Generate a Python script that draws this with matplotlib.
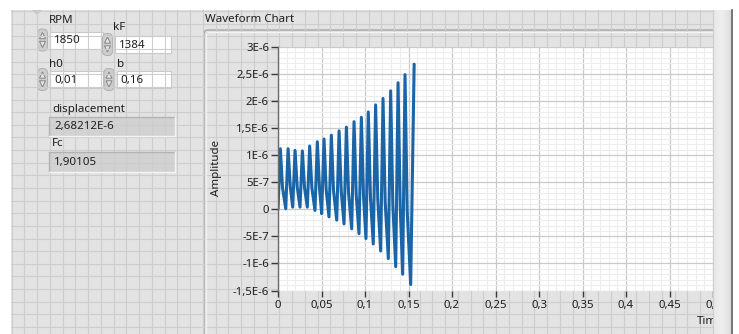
import matplotlib.pyplot as plt
import numpy as np
from matplotlib.patches import FancyBboxPatch, Polygon, Rectangle


# Bildgröße in Pixeln (bei dpi=100)
W, H = 739, 334

# Werte der Bedienelemente
RPM = '1850'
KF = '1384'
H0 = '0,01'
B = '0,16'
DISPLACEMENT = 2.68212e-6
FC = '1,90105'

# Tiefpunkte der Schwingung (Zeit in s, Amplitude)
TROUGH_TIMES = [0.0, 0.0089, 0.0169, 0.0253, 0.0337, 0.0425, 0.0502, 0.0586, 0.0675, 0.0759,
                0.0847, 0.0931, 0.1011, 0.1095, 0.1180, 0.1268, 0.1353, 0.1433, 0.1525]
TROUGH_VALUES = [0.0, 0.01e-6, 0.04e-6, 0.04e-6, 0.04e-6, -0.02e-6, -0.08e-6, -0.14e-6, -0.20e-6, -0.27e-6,
                 -0.36e-6, -0.45e-6, -0.54e-6, -0.64e-6, -0.77e-6, -0.91e-6, -1.06e-6, -1.20e-6, -1.39e-6]

# Hochpunkte der Schwingung; der letzte Wert ist die angezeigte Auslenkung
PEAK_TIMES = [0.0027, 0.0116, 0.0196, 0.0280, 0.0364, 0.0452, 0.0529, 0.0613, 0.0702, 0.0786,
              0.0874, 0.0958, 0.1038, 0.1122, 0.1207, 0.1295, 0.1380, 0.1460, 0.1565]
PEAK_VALUES = [1.12e-6, 1.12e-6, 1.09e-6, 1.08e-6, 1.17e-6, 1.25e-6, 1.30e-6, 1.37e-6, 1.45e-6, 1.52e-6,
               1.62e-6, 1.70e-6, 1.80e-6, 1.93e-6, 2.05e-6, 2.19e-6, 2.34e-6, 2.49e-6, DISPLACEMENT]

# Knick in der fallenden Flanke jeder Periode
KNEE_TIMES = [0.0052, 0.0141, 0.0221, 0.0305, 0.0389, 0.0477, 0.0554, 0.0638, 0.0727, 0.0811,
              0.0899, 0.0983, 0.1063, 0.1147, 0.1232, 0.1320, 0.1405, 0.1485]
KNEE_VALUES = [0.40e-6, 0.42e-6, 0.41e-6, 0.40e-6, 0.40e-6, 0.39e-6, 0.36e-6, 0.35e-6, 0.33e-6, 0.30e-6,
               0.27e-6, 0.24e-6, 0.21e-6, 0.18e-6, 0.13e-6, 0.08e-6, 0.04e-6, -0.03e-6]

Y_TICKS = [-1.5e-6, -1e-6, -5e-7, 0, 5e-7, 1e-6, 1.5e-6, 2e-6, 2.5e-6, 3e-6]
Y_TICK_LABELS = ['-1,5E-6', '-1E-6', '-5E-7', '0', '5E-7', '1E-6', '1,5E-6', '2E-6', '2,5E-6', '3E-6']
X_TICKS = [0, 0.05, 0.1, 0.15, 0.2, 0.25, 0.3, 0.35, 0.4, 0.45, 0.5]
X_TICK_LABELS = ['0', '0,05', '0,1', '0,15', '0,2', '0,25', '0,3', '0,35', '0,4', '0,45', '0,5']

FONT = 'Noto Sans'
TEXT_COLOR = '#1e1e1e'
LINE_COLOR = '#1a64a8'


# Zahl im LabVIEW-Stil mit Dezimalkomma, z.B. 2,68212E-6
def labview_format(value: float) -> str:
    mant, exp = f'{value:.5E}'.split('E')
    return f"{mant.replace('.', ',')}E{int(exp)}"


def pixel_axes(fig, zorder):
    ax = fig.add_axes([0, 0, 1, 1], zorder=zorder)
    ax.set_xlim(0, W)
    ax.set_ylim(H, 0)
    ax.axis('off')
    ax.patch.set_alpha(0)
    return ax


def draw_spinner(ax, x, y, h):
    ax.add_patch(FancyBboxPatch((x, y), 10, h, boxstyle='round,pad=0,rounding_size=4.5',
                                facecolor='#cdcdcd', edgecolor='#b0b0b0', lw=0.7))
    mid = x + 5
    ax.add_patch(Polygon([[mid - 3, y + h * 0.44], [mid + 3, y + h * 0.44], [mid, y + h * 0.16]],
                         closed=True, facecolor='#e6e6e6', edgecolor='#858585', lw=0.7))
    ax.add_patch(Polygon([[mid - 3, y + h * 0.56], [mid + 3, y + h * 0.56], [mid, y + h * 0.84]],
                         closed=True, facecolor='#e6e6e6', edgecolor='#858585', lw=0.7))


def draw_control(ax, x, y, w, h, text):
    draw_spinner(ax, x - 12.5, y - 2.5, h + 5)
    ax.add_patch(Rectangle((x, y), w, h, facecolor='white', edgecolor='#c9c9c9', lw=0.8))
    ax.text(x + 4, y + h / 2 + 0.5, text, fontsize=8.3, family=FONT, color=TEXT_COLOR, va='center')


def draw_indicator(ax, x, y, w, h, text):
    ax.add_patch(Rectangle((x, y), w, h, facecolor='#d2d2d2', edgecolor='none'))
    ax.plot([x, x, x + w], [y + h, y, y], color='#b3b3b3', lw=1.0)
    ax.plot([x, x + w, x + w], [y + h, y + h, y], color='#f3f3f3', lw=1.0)
    ax.text(x + 5, y + h / 2 + 0.5, text, fontsize=8.3, family=FONT, color=TEXT_COLOR, va='center')


def draw_front_panel(ax):
    # Hintergrund mit Raster
    ax.add_patch(Rectangle((11, 10), W, H, facecolor='#e3e3e3', edgecolor='none'))
    for gx in np.arange(11.7, W, 12.75):
        ax.plot([gx, gx], [10, H], color='#cdcdcd', lw=0.8)
    for gy in np.arange(11.2, H, 12.63):
        ax.plot([11, W], [gy, gy], color='#cdcdcd', lw=0.8)
    ax.add_patch(Polygon([[32, 10], [42, 10], [37, 15]], closed=True, facecolor='#c4c4c4', edgecolor='none'))

    # Bedienelemente links
    lbl = dict(fontsize=8.3, family=FONT, color=TEXT_COLOR, va='baseline')
    ax.text(49, 23, 'RPM', **lbl)
    ax.text(113, 29.5, 'kF', **lbl)
    ax.text(49, 67, 'h0', **lbl)
    ax.text(117, 67, 'b', **lbl)
    ax.text(52, 112, 'displacement', **lbl)
    ax.text(52, 146, 'Fc', **lbl)
    draw_control(ax, 50, 31.5, 53, 17, RPM)
    draw_control(ax, 115, 36, 56, 17, KF)
    draw_control(ax, 50, 71, 53, 17, H0)
    draw_control(ax, 116.5, 71, 54, 17, B)
    draw_indicator(ax, 49, 117, 126, 19, labview_format(DISPLACEMENT))
    draw_indicator(ax, 49, 152, 126, 20, FC)

    # Rahmen des Diagramms mit Verlauf
    ax.text(205, 22, 'Waveform Chart', **lbl)
    frame = FancyBboxPatch((204, 30), 520, 330, boxstyle='round,pad=0,rounding_size=4',
                           facecolor='none', edgecolor='#a5a5a5', lw=1.0)
    ax.add_patch(frame)
    ys = np.linspace(30, H, 200)
    shade = np.clip(0.93 - (ys - 30) / (291 - 30) * 0.1, 0.83, 1)
    grad = np.repeat(shade[:, None], 2, axis=1)
    im = ax.imshow(np.dstack([grad, grad, grad]), extent=(204, 724, H, 30), aspect='auto',
                   interpolation='bilinear')
    im.set_clip_path(frame)
    ax.plot([205.5, 205.5], [34, H], color='#f4f4f4', lw=0.8)
    ax.plot([208, 720], [31.5, 31.5], color='#f4f4f4', lw=0.8)
    ax.text(216, 168, 'Amplitude', rotation=90, fontsize=8.3, family=FONT, color=TEXT_COLOR,
            ha='center', va='center')
    ax.text(697, 322, 'Time', fontsize=8.3, family=FONT, color=TEXT_COLOR, va='center')


def draw_chart(fig):
    ax = fig.add_axes([278 / W, 1 - 290.5 / H, 435 / W, 243.5 / H], zorder=2)
    ax.set_facecolor('white')
    ax.set_xlim(0, 0.5)
    ax.set_ylim(-1.5e-6, 3e-6)

    ax.set_xticks(X_TICKS)
    ax.set_xticklabels(X_TICK_LABELS)
    ax.set_yticks(Y_TICKS)
    ax.set_yticklabels(Y_TICK_LABELS)
    ax.set_xticks(np.arange(0, 0.5001, 0.01), minor=True)
    ax.set_yticks(np.arange(-1.5e-6, 3.0001e-6, 1e-7), minor=True)
    ax.grid(which='minor', color='#ededed', lw=0.8)
    ax.grid(which='major', color='#c9c9c9', lw=0.9)
    ax.set_axisbelow(True)
    ax.tick_params(which='minor', length=0)
    ax.tick_params(axis='y', which='major', length=5, width=1.0, color='#3a3a3a', pad=1.5,
                   labelsize=8.2, labelcolor=TEXT_COLOR)
    ax.tick_params(axis='x', which='major', length=4.5, width=1.0, color='#3a3a3a', pad=2,
                   labelsize=8.2, labelcolor=TEXT_COLOR)
    for lab in ax.get_xticklabels() + ax.get_yticklabels():
        lab.set_family(FONT)
    for side in ['top', 'right', 'bottom']:
        ax.spines[side].set_visible(False)
    ax.spines['left'].set_color('#6a6a6a')
    ax.spines['left'].set_linewidth(1.0)

    # Tief-, Hoch- und Knickpunkte zeitlich sortiert zu einem Verlauf verbinden
    points = sorted(zip(TROUGH_TIMES + PEAK_TIMES + KNEE_TIMES,
                        TROUGH_VALUES + PEAK_VALUES + KNEE_VALUES))
    t = [p[0] for p in points]
    y = [p[1] for p in points]
    ax.plot(t, y, color=LINE_COLOR, lw=2.2, solid_joinstyle='round', solid_capstyle='round')


def draw_scrollbar(ax):
    xs = np.linspace(0, 1, 50)
    shade = 0.9 + 0.05 * np.sin(xs * np.pi) - 0.04 * xs
    grad = np.repeat(shade[None, :], 2, axis=0)
    ax.imshow(np.dstack([grad, grad, grad]), extent=(713, 731, H, 10), aspect='auto')
    ax.add_patch(Rectangle((731, 0), W - 731, H, facecolor='white', edgecolor='none'))
    ax.add_patch(Rectangle((713, 0), 18, 10, facecolor='white', edgecolor='none'))
    ax.plot([731.8, 731.8], [10, H], color='#5e5e5e', lw=1.2)
    ax.plot([713.3, 713.3], [10, H], color='#cfcfcf', lw=0.8)
    ax.set_xlim(0, W)
    ax.set_ylim(H, 0)


def main() -> None:
    fig = plt.figure(figsize=(W / 100, H / 100), dpi=100)
    fig.patch.set_facecolor('white')
    back = pixel_axes(fig, 0)
    draw_front_panel(back)
    draw_chart(fig)
    top = pixel_axes(fig, 5)
    draw_scrollbar(top)
    fig.savefig('out.png', dpi=100)


if __name__ == '__main__':
    main()
